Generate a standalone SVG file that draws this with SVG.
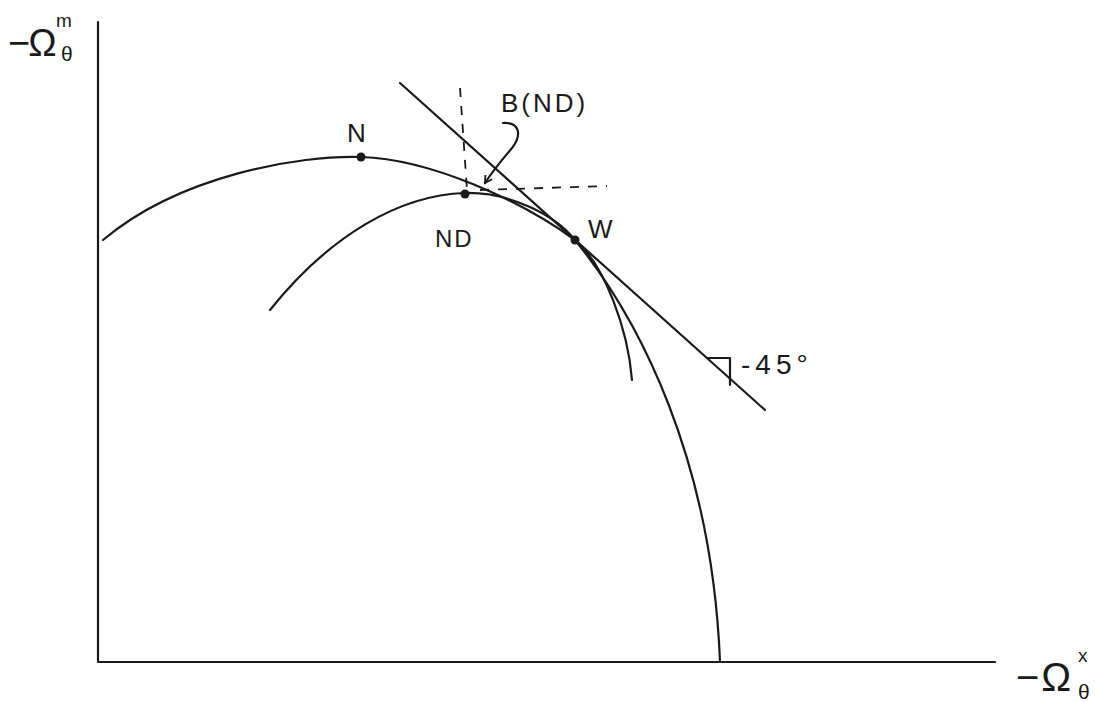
<svg xmlns="http://www.w3.org/2000/svg" width="1095" height="702" viewBox="0 0 1095 702">
<defs>
<style>
.ln{fill:none;stroke:#1a1a1a;stroke-width:2.2;stroke-linecap:round;stroke-linejoin:round}
.ds{fill:none;stroke:#1a1a1a;stroke-width:1.8;stroke-dasharray:9 9}
.t{font-family:"Liberation Sans",Arial,sans-serif;fill:#1a1a1a}
.dot{fill:#1a1a1a}
</style>
<marker id="ah" markerWidth="10" markerHeight="10" refX="8" refY="5" orient="auto" markerUnits="userSpaceOnUse">
<path d="M1,1 L8,5 L1,9" fill="none" stroke="#1a1a1a" stroke-width="1.8"/>
</marker>
</defs>
<rect width="1095" height="702" fill="#ffffff"/>
<g id="axes">
<path class="ln" d="M98,22 L98,662 L995,662"/>
<text class="t" x="8" y="56" font-size="38" letter-spacing="-2">−Ω</text>
<text class="t" x="61" y="61" font-size="21">θ</text>
<text class="t" x="56" y="27" font-size="19">m</text>
<text class="t" x="1016" y="691" font-size="40" letter-spacing="2">−Ω</text>
<text class="t" x="1078" y="699" font-size="21">θ</text>
<text class="t" x="1078" y="662" font-size="19">x</text>
</g>
<g id="connectors">
<path id="curve-N" class="ln" d="M103,240 C180,175 300,155 361,157 C430,159 520,200 575,240 C605,265 628,330 632,380"/>
<path id="curve-ND" class="ln" d="M270,310 C330,235 400,195 465,193 C510,192 555,215 575,240 C640,320 712,460 720,662"/>
<path id="tangent" class="ln" d="M400,83 L765,410"/>
<path class="ds" d="M460,88 L467,190"/>
<path class="ds" d="M480,190 L607,186"/>
<path class="ln" d="M503,123 C520,122 522,135 512,148 C500,162 492,172 485,183" marker-end="url(#ah)"/>
<path class="ln" d="M708,358 L730,358 L730,385"/>
</g>
<g id="node-N">
<circle class="dot" cx="361" cy="157" r="4.5"/>
<text class="t" x="347" y="142" font-size="26">N</text>
</g>
<g id="node-ND">
<circle class="dot" cx="465" cy="194" r="4.5"/>
<text class="t" x="435" y="247" font-size="24" letter-spacing="2">ND</text>
</g>
<g id="node-W">
<circle class="dot" cx="575" cy="240" r="4.5"/>
<text class="t" x="588" y="238" font-size="26">W</text>
</g>
<g id="label-BND">
<text class="t" x="501" y="112" font-size="26" letter-spacing="3">B(ND)</text>
</g>
<g id="label-45">
<text class="t" x="741" y="374" font-size="28" letter-spacing="5">-45°</text>
</g>
</svg>
